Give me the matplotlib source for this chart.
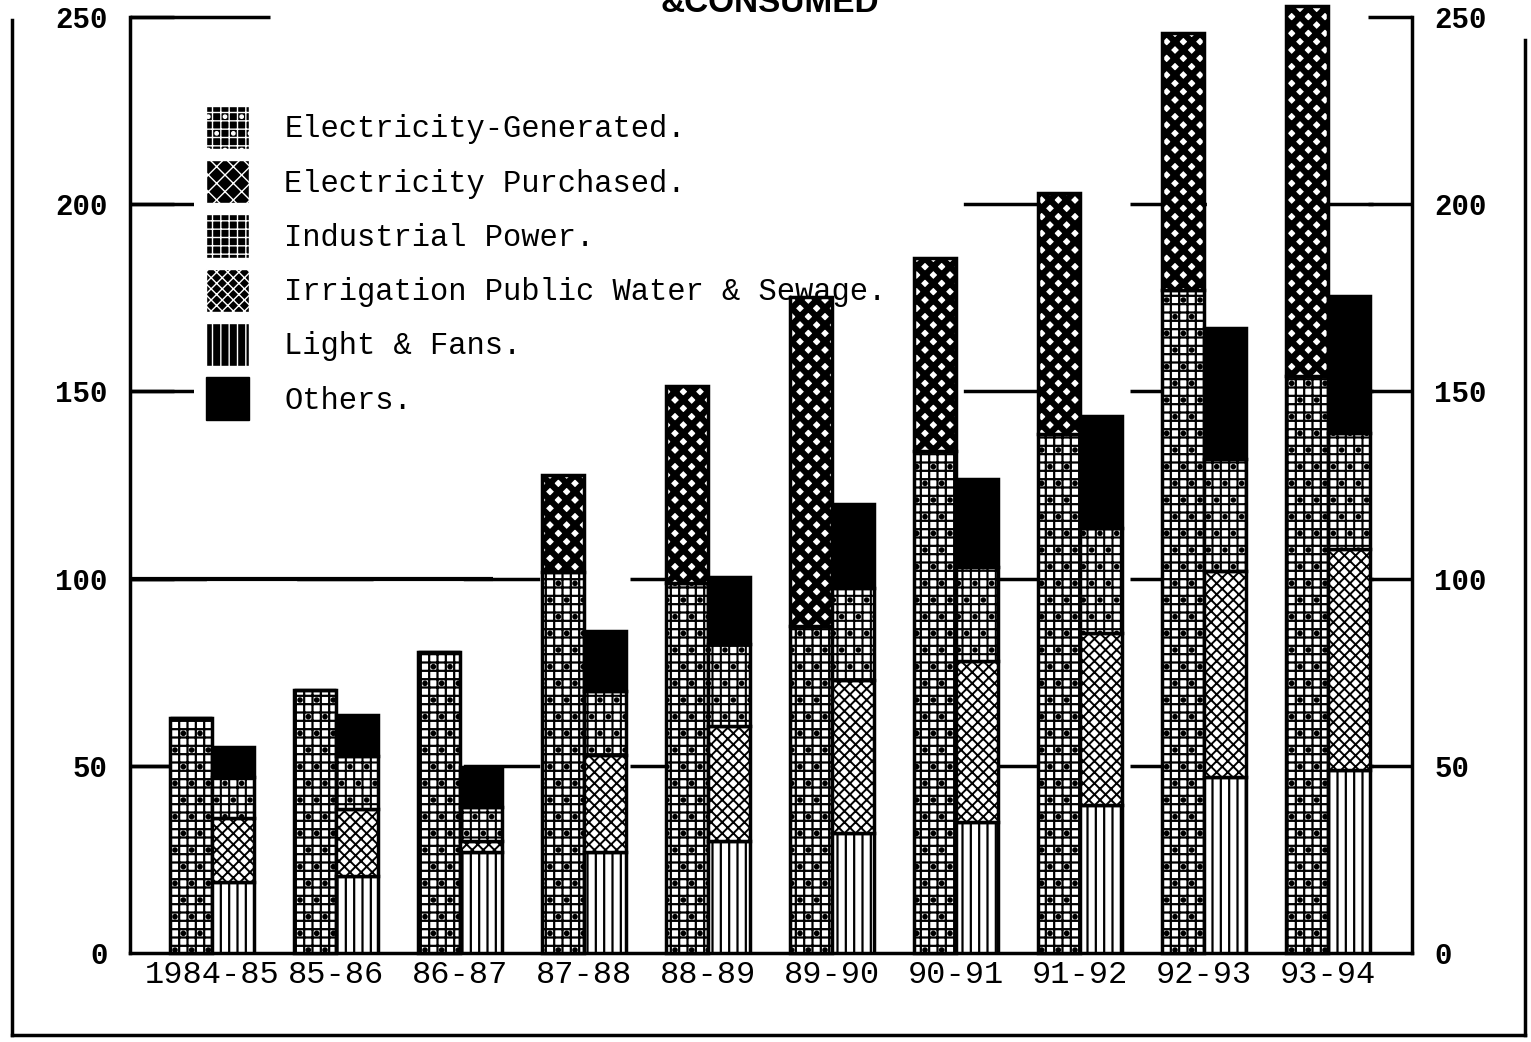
import matplotlib
matplotlib.use("Agg")
import matplotlib.pyplot as plt
from matplotlib.patches import Patch
from matplotlib.lines import Line2D
import numpy as np

plt.rcParams['font.family'] = ['Liberation Mono', 'DejaVu Sans Mono']

years = ["1984-85", "85-86", "86-87", "87-88", "88-89",
         "89-90", "90-91", "91-92", "92-93", "93-94"]

# left bar of each pair
generated = [62.7, 70.2, 80.3, 101.7, 98.8, 87.3, 134.0, 138.7, 177.0, 154.0]
purchased = [0.0, 0.0, 0.0, 25.9, 52.6, 87.9, 51.6, 64.3, 68.6, 99.0]

# right bar of each pair
light_fans = [19.0, 20.5, 27.0, 27.0, 30.0, 32.0, 35.0, 39.5, 47.0, 49.0]
irrigation = [17.0, 18.0, 3.0, 26.0, 30.5, 41.0, 43.0, 46.0, 55.0, 59.0]
industrial = [11.0, 14.0, 9.0, 17.0, 22.0, 24.5, 25.0, 28.0, 30.0, 31.0]
others = [8.0, 11.0, 10.7, 16.0, 18.0, 22.5, 23.5, 30.0, 35.0, 36.5]

labels = ["Electricity-Generated.", "Electricity Purchased.", "Industrial Power.",
          "Irrigation Public Water & Sewage.", "Light & Fans.", "Others."]

W, H = 1531, 1042
fig = plt.figure(figsize=(W / 100, H / 100), dpi=100)
ax = fig.add_axes([130 / W, 89 / H, (1412 - 130) / W, (953 - 17) / H])

x = np.arange(len(years))
w = 0.34
xl = x - w / 2
xr = x + w / 2

gen = np.array(generated)
lf = np.array(light_fans)
ir = np.array(irrigation)
ind = np.array(industrial)

with plt.rc_context({'hatch.linewidth': 1.6}):
    ax.bar(xl, generated, w, color='white', edgecolor='black', hatch='++.',
           lw=2.5, zorder=3, clip_on=False)
with plt.rc_context({'hatch.linewidth': 4.5}):
    ax.bar(xl, purchased, w, bottom=gen, color='white', edgecolor='black',
           hatch='xx', lw=2.5, zorder=3, clip_on=False)
with plt.rc_context({'hatch.linewidth': 1.6}):
    ax.bar(xr, light_fans, w, color='white', edgecolor='black', hatch='||',
           lw=2.5, zorder=3)
with plt.rc_context({'hatch.linewidth': 1.4}):
    ax.bar(xr, irrigation, w, bottom=lf, color='white', edgecolor='black',
           hatch='xxx', lw=2.5, zorder=3)
with plt.rc_context({'hatch.linewidth': 1.5}):
    ax.bar(xr, industrial, w, bottom=lf + ir, color='white', edgecolor='black',
           hatch='++.', lw=2.5, zorder=3)
ax.bar(xr, others, w, bottom=lf + ir + ind, color='black', edgecolor='black',
       lw=2.5, zorder=3)

ax.set_xlim(-0.661, 9.677)
ax.set_ylim(0, 250)

# broken dashed guide lines
for v in [50, 100, 150, 200]:
    ax.axhline(v, color='black', lw=2.5, ls=(0, (22, 26)), zorder=1)
ax.hlines(100, -0.661, 2.27, color='black', lw=3, zorder=2)
ax.hlines(250, -0.661, 0.47, color='black', lw=2.5, zorder=2, clip_on=False)

ax.spines['top'].set_visible(False)
for s in ['left', 'right', 'bottom']:
    ax.spines[s].set_linewidth(2.5)

ax.set_xticks(x)
ax.set_xticklabels(years, fontsize=23)
ax.tick_params(axis='x', length=0, pad=5)
ax.set_yticks([0, 50, 100, 150, 200, 250])
ax.set_yticklabels(['0', '50', '100', '150', '200', '250'], fontsize=21,
                   fontweight='bold')
ax.tick_params(axis='y', direction='in', length=32, width=2.5, pad=16,
               right=True, labelright=True, labelsize=21)
for t in ax.yaxis.get_ticklines()[:2]:
    t.set_visible(False)
for tick in ax.yaxis.get_major_ticks():
    tick.label1.set_fontweight('bold')
    tick.label2.set_fontweight('bold')

# legend
with plt.rc_context({'hatch.linewidth': 0.8}):
    handles = [
        Patch(facecolor='black', edgecolor='white', hatch='++.'),
        Patch(facecolor='black', edgecolor='white', hatch='xx'),
        Patch(facecolor='black', edgecolor='white', hatch='++'),
        Patch(facecolor='black', edgecolor='white', hatch='xxx'),
        Patch(facecolor='black', edgecolor='white', hatch='||'),
        Patch(facecolor='black', edgecolor='black'),
    ]
leg = ax.legend(handles, labels, loc='upper left', bbox_to_anchor=(0.05, 0.918),
                frameon=True, facecolor='white', edgecolor='none', framealpha=1,
                fontsize=22, handlelength=1.4, handleheight=1.8,
                labelspacing=0.36, handletextpad=1.15, borderaxespad=0,
                borderpad=0.4)
leg.set_zorder(2.5)

fig.text(770 / W, 0.997, "&CONSUMED", fontsize=24, fontweight='bold',
         family='Liberation Sans', ha='center', va='center')

# page frame of the scan
fig.add_artist(Line2D([12 / W, 12 / W], [1 - 20 / H, 1 - 1035 / H],
                      color='black', lw=2.5))
fig.add_artist(Line2D([12 / W, 1525 / W], [1 - 1035 / H, 1 - 1035 / H],
                      color='black', lw=2.5))
fig.add_artist(Line2D([1525 / W, 1525 / W], [1 - 40 / H, 1 - 1035 / H],
                      color='black', lw=2.5))

fig.savefig("out.png", dpi=100)
plt.close(fig)
